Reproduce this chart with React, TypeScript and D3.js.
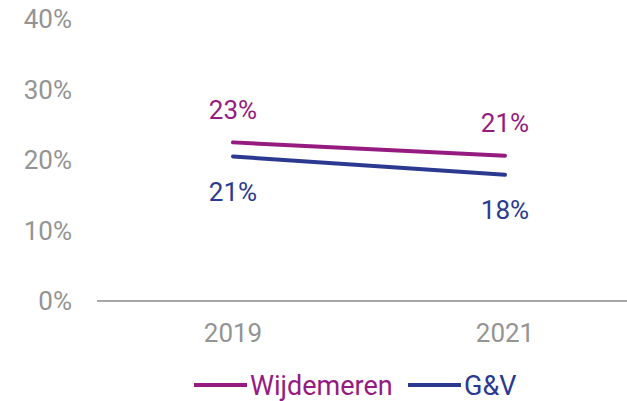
import { useEffect, useRef } from "react";
import * as d3 from "d3";

const years = ["2019", "2021"];
const wijdemeren = [0.225, 0.206];
const genv = [0.205, 0.179];
const wijdemerenLabels = ["23%", "21%"];
const genvLabels = ["21%", "18%"];
const yTicks = [0, 0.1, 0.2, 0.3, 0.4];

const PURPLE = "#951b81";
const BLUE = "#2b3990";
const GRAY = "#949494";

export default function App() {
  const svgRef = useRef<SVGSVGElement>(null);

  useEffect(() => {
    if (!svgRef.current) return;
    const svg = d3.select(svgRef.current);
    svg.selectAll("*").remove();

    const width = 627;
    const height = 401;
    const font = "Roboto, sans-serif";

    const x = d3.scalePoint<string>().domain(years).range([97, 641]).padding(0.5);
    const y = d3.scaleLinear().domain([0, 0.4]).range([301, 19]);

    // Y tick labels (no axis line)
    svg
      .append("g")
      .selectAll("text")
      .data(yTicks)
      .join("text")
      .attr("x", 72)
      .attr("y", (d) => y(d))
      .attr("dy", "0.36em")
      .attr("text-anchor", "end")
      .attr("fill", GRAY)
      .style("font-family", font)
      .style("font-size", "26px")
      .text((d) => d3.format(".0%")(d));

    // baseline
    svg
      .append("line")
      .attr("x1", 97)
      .attr("x2", width)
      .attr("y1", y(0))
      .attr("y2", y(0))
      .attr("stroke", "#8a8a8a")
      .attr("stroke-width", 1.5);

    // X labels
    svg
      .append("g")
      .selectAll("text")
      .data(years)
      .join("text")
      .attr("x", (d) => x(d)!)
      .attr("y", 333)
      .attr("dy", "0.36em")
      .attr("text-anchor", "middle")
      .attr("fill", GRAY)
      .style("font-family", font)
      .style("font-size", "26px")
      .text((d) => d);

    const line = d3
      .line<number>()
      .x((_, i) => x(years[i])!)
      .y((d) => y(d));

    const series = [
      { values: wijdemeren, labels: wijdemerenLabels, color: PURPLE, off: -33 },
      { values: genv, labels: genvLabels, color: BLUE, off: 35 },
    ];

    series.forEach((s) => {
      svg
        .append("path")
        .attr("d", line(s.values))
        .attr("fill", "none")
        .attr("stroke", s.color)
        .attr("stroke-width", 4)
        .attr("stroke-linecap", "round");

      svg
        .append("g")
        .selectAll("text")
        .data(s.values)
        .join("text")
        .attr("x", (_, i) => x(years[i])!)
        .attr("y", (d) => y(d) + s.off)
        .attr("dy", "0.36em")
        .attr("text-anchor", "middle")
        .attr("fill", s.color)
        .style("font-family", font)
        .style("font-size", "26px")
        .text((_, i) => s.labels[i]);
    });

    // Legend
    const legendItems = [
      { name: "Wijdemeren", color: PURPLE, x: 194 },
      { name: "G&V", color: BLUE, x: 408 },
    ];
    const ly = 385;
    legendItems.forEach((item) => {
      svg
        .append("line")
        .attr("x1", item.x)
        .attr("x2", item.x + 53)
        .attr("y1", ly)
        .attr("y2", ly)
        .attr("stroke", item.color)
        .attr("stroke-width", 4);
      svg
        .append("text")
        .attr("x", item.x + 56)
        .attr("y", ly)
        .attr("dy", "0.36em")
        .attr("fill", item.color)
        .style("font-family", font)
        .style("font-size", "27px")
        .text(item.name);
    });

    svg.attr("width", width).attr("height", height);
  }, []);

  return (
    <div style={{ position: "fixed", left: 0, top: 0, background: "#fff" }}>
      <svg ref={svgRef} width={627} height={401} style={{ display: "block" }} />
    </div>
  );
}
